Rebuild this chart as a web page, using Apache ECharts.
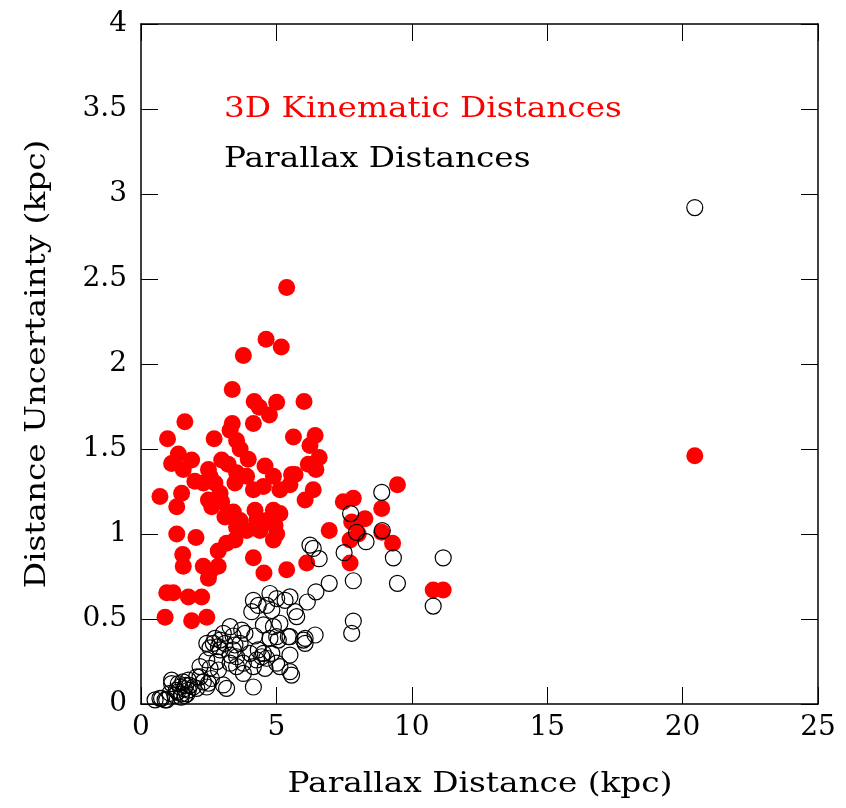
<!DOCTYPE html>
<html>
<head>
<meta charset="utf-8">
<script src="https://cdn.jsdelivr.net/npm/echarts@6/dist/echarts.min.js"></script>
<style>html,body{margin:0;padding:0;background:#fff}#c{width:846px;height:808px}</style>
</head>
<body>
<div id="c"></div>
<script>
var xTicks = [0, 5, 10, 15, 20, 25];
var yTicks = [0, 0.5, 1, 1.5, 2, 2.5, 3, 3.5, 4];
var kinematic = [
[5.38,2.45],[4.62,2.145],[5.18,2.10],[3.78,2.05],[3.37,1.85],[4.18,1.78],[4.37,1.745],[5.01,1.775],[6.02,1.78],[4.74,1.70],
[4.15,1.65],[3.37,1.65],[3.29,1.61],[1.62,1.66],[0.98,1.56],[2.70,1.56],[3.53,1.55],[5.63,1.57],[3.66,1.50],[1.38,1.47],
[3.96,1.44],[1.13,1.415],[1.87,1.435],[1.56,1.38],[2.98,1.435],[3.22,1.41],[2.49,1.38],[2.55,1.34],[3.53,1.36],[3.90,1.34],
[4.58,1.40],[4.89,1.34],[5.56,1.35],[5.69,1.35],[1.99,1.31],[2.30,1.30],[2.73,1.30],[3.47,1.30],[4.15,1.26],[4.52,1.28],
[5.13,1.26],[5.50,1.29],[1.50,1.24],[0.70,1.22],[1.32,1.16],[2.92,1.24],[2.49,1.20],[2.61,1.16],[2.98,1.19],[3.41,1.13],
[3.10,1.10],[3.66,1.08],[3.53,1.04],[4.21,1.14],[4.27,1.08],[4.89,1.14],[5.13,1.12],[4.64,1.08],[4.95,1.05],[4.39,1.02],
[5.01,1.00],[4.89,0.965],[3.90,1.02],[3.47,0.965],[3.16,0.945],[2.85,0.90],[1.32,1.00],[2.03,0.98],[1.54,0.88],[1.56,0.81],
[4.15,0.86],[2.30,0.81],[2.85,0.81],[2.55,0.78],[2.49,0.74],[4.54,0.77],[5.38,0.79],[0.95,0.655],[1.19,0.655],[1.75,0.63],
[2.24,0.63],[0.89,0.51],[1.87,0.49],[2.43,0.51],[6.06,1.20],[6.43,1.58],[6.24,1.52],[6.58,1.45],[6.18,1.41],[6.46,1.38],
[6.36,1.26],[9.47,1.29],[7.47,1.19],[7.84,1.21],[8.89,1.15],[8.27,1.09],[7.78,1.07],[6.95,1.02],[8.02,1.00],[7.72,0.965],
[8.89,1.01],[9.29,0.945],[6.12,0.83],[7.72,0.83],[10.79,0.67],[11.16,0.67],[20.45,1.46]
];
var parallax = [
[8.89,1.245],[7.74,1.12],[7.96,1.01],[8.31,0.955],[8.91,1.02],[7.50,0.89],[6.24,0.935],[6.36,0.915],[6.58,0.855],[9.32,0.86],
[11.16,0.86],[7.84,0.725],[9.47,0.71],[6.95,0.71],[6.46,0.66],[6.14,0.60],[10.79,0.576],[5.69,0.543],[5.75,0.514],[7.84,0.488],
[7.78,0.416],[6.43,0.406],[6.06,0.386],[6.06,0.357],[5.50,0.396],[5.50,0.288],[5.56,0.17],[5.50,0.63],[6.0,0.376],
[4.15,0.61],[4.33,0.58],[4.76,0.65],[5.01,0.62],[5.32,0.61],[4.64,0.58],[4.09,0.543],[4.83,0.55],[4.52,0.465],[4.89,0.455],
[5.13,0.475],[5.01,0.396],[5.07,0.376],[4.76,0.386],[5.44,0.396],[4.2,0.40],
[3.29,0.455],[3.72,0.435],[3.84,0.416],[3.04,0.416],[2.92,0.376],[2.73,0.386],[2.67,0.357],[3.10,0.357],[3.4,0.40],
[2.43,0.357],[2.55,0.33],[2.86,0.337],[2.92,0.318],[3.41,0.318],[3.66,0.357],[3.47,0.347],[3.29,0.288],[3.53,0.278],
[4.02,0.298],[4.33,0.318],[4.52,0.298],[4.83,0.298],[4.64,0.269],[4.46,0.278],[4.27,0.259],[3.78,0.24],[3.29,0.24],
[3.53,0.22],[2.43,0.259],[2.18,0.22],[2.55,0.21],[2.80,0.249],[2.86,0.20],[4.15,0.22],[4.58,0.21],[5.13,0.22],[5.01,0.24],
[5.50,0.19],[3.78,0.18],[4.15,0.10],[3.16,0.092],[3.04,0.112],[2.43,0.10],[2.49,0.122],[2.06,0.16],[2.18,0.16],[2.6,0.15],
[2.3,0.13],[1.75,0.14],[2.06,0.092],[1.93,0.10],[1.75,0.082],
[1.44,0.10],[1.30,0.08],[1.50,0.06],[1.60,0.09],[1.38,0.12],[1.55,0.13],[1.65,0.11],[1.70,0.06],[1.25,0.05],[1.48,0.04],
[1.62,0.05],[1.35,0.07],[1.80,0.11],[1.13,0.12],[1.13,0.14],[1.07,0.063],[0.76,0.033],[0.52,0.024],[0.89,0.024],[0.70,0.033],
[0.95,0.024],[20.45,2.92]
];
var legendLabels = ['3D Kinematic Distances', 'Parallax Distances'];
var xTitle = 'Parallax Distance (kpc)';
var yTitle = 'Distance Uncertainty (kpc)';

var FONT = 'DejaVu Serif';
var FS = 28;
var SX = 1.17;
var chart = echarts.init(document.getElementById('c'), null, {renderer: 'canvas'});
function axisBase(extra) {
  var a = {
    type: 'value',
    axisLine: {show: true, onZero: false, lineStyle: {color: '#000', width: 1.5}},
    axisTick: {show: true, inside: true, length: 17, lineStyle: {color: '#000', width: 1}},
    splitLine: {show: false},
    axisLabel: {show: false}
  };
  for (var k in extra) a[k] = extra[k];
  return a;
}
var lblStyle = {show: true, color: '#000', fontFamily: FONT, fontSize: FS};
var fontStr = FS + 'px "' + FONT + '"';
chart.setOption({
  animation: false,
  backgroundColor: '#fff',
  grid: {left: 141, right: 28, top: 24, bottom: 104, containLabel: false},
  xAxis: [
    axisBase({min: xTicks[0], max: xTicks[xTicks.length-1], interval: 5, position: 'bottom',
      axisLabel: Object.assign({margin: 10, showMaxLabel: true}, lblStyle)}),
    axisBase({min: xTicks[0], max: xTicks[xTicks.length-1], interval: 5, position: 'top'})
  ],
  yAxis: [
    axisBase({min: yTicks[0], max: yTicks[yTicks.length-1], interval: 0.5, position: 'left',
      axisLabel: Object.assign({margin: 14, showMaxLabel: true}, lblStyle)}),
    axisBase({min: yTicks[0], max: yTicks[yTicks.length-1], interval: 0.5, position: 'right'})
  ],
  graphic: [
    {type: 'text', x: 224, y: 110, scaleX: SX, style: {text: legendLabels[0], fill: '#ff0000', font: fontStr, textAlign: 'left', textVerticalAlign: 'middle'}},
    {type: 'text', x: 224, y: 160, scaleX: SX, style: {text: legendLabels[1], fill: '#000', font: fontStr, textAlign: 'left', textVerticalAlign: 'middle'}},
    {type: 'text', x: 480, y: 785, scaleX: SX, style: {text: xTitle, fill: '#000', font: fontStr, textAlign: 'center', textVerticalAlign: 'middle'}},
    {type: 'text', x: 38, y: 364, rotation: Math.PI / 2, scaleX: SX, style: {text: yTitle, fill: '#000', font: fontStr, textAlign: 'center', textVerticalAlign: 'middle'}}
  ],
  series: [
    {type: 'scatter', xAxisIndex: 0, yAxisIndex: 0, data: kinematic, symbol: 'circle', symbolSize: 17,
      itemStyle: {color: '#ff0000', opacity: 1}, z: 2},
    {type: 'scatter', xAxisIndex: 0, yAxisIndex: 0, data: parallax, symbol: 'circle', symbolSize: 16,
      itemStyle: {color: 'rgba(0,0,0,0)', borderColor: '#000', borderWidth: 1.2, opacity: 1}, z: 3}
  ]
});
</script>
</body>
</html>
